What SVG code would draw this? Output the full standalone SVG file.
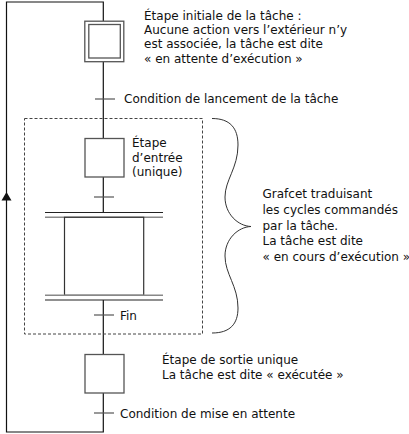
<svg xmlns="http://www.w3.org/2000/svg" width="409" height="434" viewBox="0 0 409 434">
<style>
.ln{stroke:#111;stroke-width:1.2;fill:none}
.st{stroke:#555;stroke-width:1.3;fill:#fff}
.tr{stroke:#555;stroke-width:1.2}
.t{font-family:"DejaVu Sans",Verdana,sans-serif;font-size:12px;fill:#111}
</style>
<rect width="409" height="434" fill="#fff"/>
<g id="connectors">
<path class="ln" d="M103.3,21 V2 H6.5 V432 H103.3 V393"/>
<line class="ln" x1="103.3" y1="62" x2="103.3" y2="138"/>
<line class="ln" x1="103.3" y1="177" x2="103.3" y2="212.5"/>
<line class="ln" x1="103.3" y1="300" x2="103.3" y2="354"/>
<polygon points="6.5,192 1.5,200.5 11.5,200.5" fill="#111"/>
<line class="tr" x1="95" y1="99" x2="115" y2="99"/>
<line class="tr" x1="94" y1="197" x2="114" y2="197"/>
<line class="tr" x1="94" y1="315" x2="114" y2="315"/>
<line class="tr" x1="94" y1="413" x2="114" y2="413"/>
</g>
<g id="grafcet-box">
<rect x="24.5" y="118.5" width="178" height="215.5" fill="none" stroke="#444" stroke-width="1" stroke-dasharray="3,2"/>
</g>
<g id="brace">
<path d="M212,118.5 C230,118.5 238,128 238,145 C238,168 225,180 225,197 C225,214 238,226 251,226.5 C238,227 225,239 225,256 C225,274 238,286 238,308 C238,324 230,333 212,333" fill="none" stroke="#333" stroke-width="1"/>
</g>
<g id="step-initial">
<rect class="st" x="84.8" y="21.2" width="39" height="40.5"/>
<rect class="st" x="88.8" y="24.5" width="31.5" height="33.5"/>
</g>
<g id="step-entry">
<rect class="st" x="85" y="138.5" width="39" height="38.5"/>
</g>
<g id="macro">
<line x1="45" y1="212.5" x2="163" y2="212.5" stroke="#222" stroke-width="1.2"/>
<line x1="45" y1="217.3" x2="163" y2="217.3" stroke="#888" stroke-width="1.5"/>
<rect x="64.5" y="217.3" width="79.2" height="78" fill="#fff" stroke="#333" stroke-width="1.2"/>
<line x1="45" y1="295.3" x2="163" y2="295.3" stroke="#888" stroke-width="1.5"/>
<line x1="45" y1="300" x2="163" y2="300" stroke="#222" stroke-width="1.2"/>
</g>
<g id="step-exit">
<rect class="st" x="85" y="354.5" width="39" height="38.5"/>
</g>
<g id="labels">
<text class="t" x="144" y="19.5">Étape initiale de la tâche :</text>
<text class="t" x="144" y="34">Aucune action vers l’extérieur n’y</text>
<text class="t" x="144" y="48.3">est associée, la tâche est dite</text>
<text class="t" x="144" y="62.6">« en attente d’exécution »</text>
<text class="t" x="124" y="103">Condition de lancement de la tâche</text>
<text class="t" x="132" y="147">Étape</text>
<text class="t" x="132" y="161.5">d’entrée</text>
<text class="t" x="132" y="176">(unique)</text>
<text class="t" x="262.5" y="198.3">Grafcet traduisant</text>
<text class="t" x="262.5" y="213.9">les cycles commandés</text>
<text class="t" x="262.5" y="229.5">par la tâche.</text>
<text class="t" x="262.5" y="245.1">La tâche est dite</text>
<text class="t" x="262.5" y="260.7">« en cours d’exécution »</text>
<text class="t" x="120" y="319.5">Fin</text>
<text class="t" x="162" y="364">Étape de sortie unique</text>
<text class="t" x="162" y="379">La tâche est dite « exécutée »</text>
<text class="t" x="120" y="417.5">Condition de mise en attente</text>
</g>
</svg>
